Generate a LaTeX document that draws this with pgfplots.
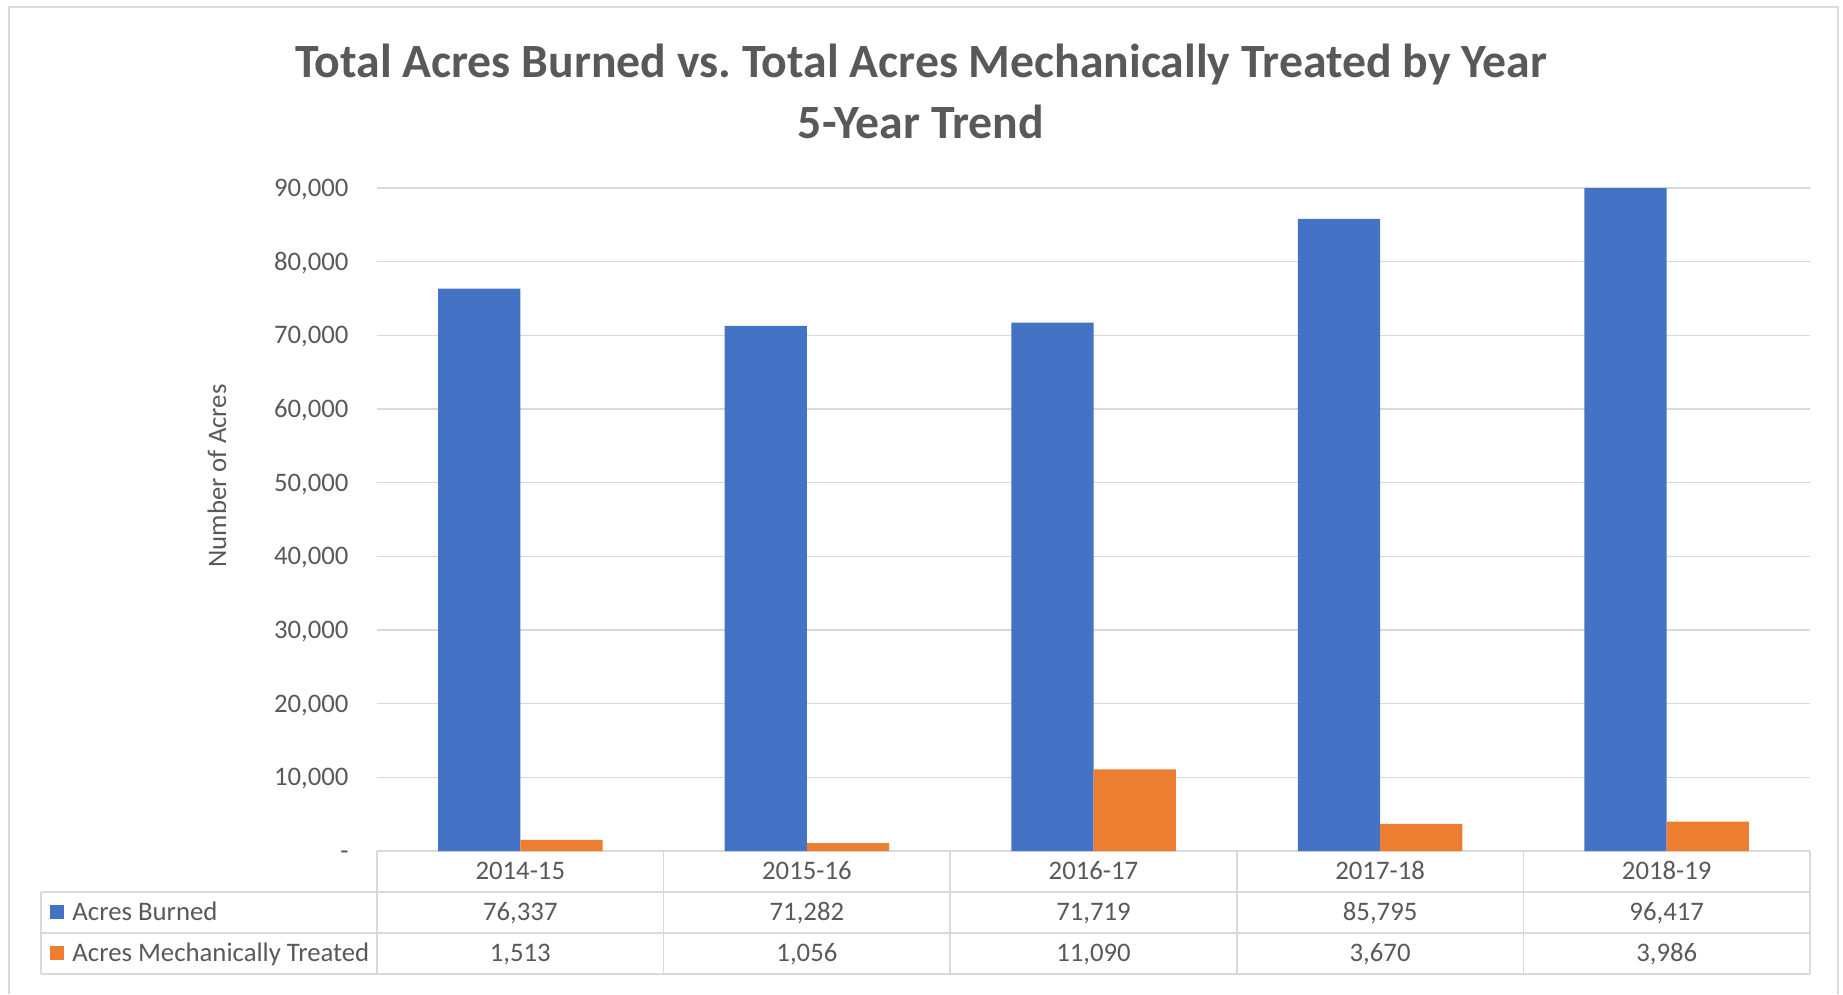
\documentclass[border=0pt]{standalone}
\usepackage{pgfplots}
\usepackage{pgfplotstable}
\pgfplotsset{compat=1.18}
\usepackage{fontspec}
\setmainfont{Carlito}

\definecolor{burnblue}{HTML}{4472C4}
\definecolor{mechorange}{HTML}{ED7D31}
\definecolor{gridgray}{HTML}{D9D9D9}
\definecolor{txtgray}{HTML}{595959}
\newcommand{\lbl}{\fontsize{10.7}{12.8}\selectfont}

\pgfkeys{/pgf/number format/.cd,1000 sep={,},assume math mode=true}

\pgfplotstableread{
x season burned treated
0 2014-15 76337 1513
1 2015-16 71282 1056
2 2016-17 71719 11090
3 2017-18 85795 3670
4 2018-19 96417 3986
}\acres

\begin{document}
\frenchspacing
\begin{tikzpicture}
% coordinates in reference pixels, 1px = 0.4pt, plot origin at px (377,851)
\begin{scope}[x=0.4pt,y=-0.4pt,xshift=-150.8pt,yshift=340.4pt]
  \useasboundingbox (0,0) rectangle (1843,994);
  \draw[gridgray,line width=0.7pt] (9,994) -- (9,7) -- (1838,7) -- (1838,994);
  \node[text=txtgray,font={\fontsize{19.1}{23}\selectfont\bfseries}] at (921,65)
    {Total Acres Burned vs.\ Total Acres Mechanically Treated by Year};
  \node[text=txtgray,font={\fontsize{19.1}{23}\selectfont\bfseries}] at (921,122)
    {5-Year Trend};
  % data table
  \begin{scope}[gridgray,line width=0.6pt]
    \draw (377,851) -- (1810,851);
    \foreach \y in {892,933,974} \draw (41,\y) -- (1810,\y);
    \draw (41,892) -- (41,974);
    \foreach \x in {377,663.6,950.2,1236.8,1523.4,1810} \draw (\x,851) -- (\x,974);
  \end{scope}
  \fill[burnblue] (50,905) rectangle (64,919);
  \fill[mechorange] (50,946) rectangle (64,960);
  \node[anchor=base west,text=txtgray,font=\lbl,inner sep=0pt] at (72,920) {Acres Burned};
  \node[anchor=base west,text=txtgray,font=\lbl,inner sep=0pt] at (72,961) {Acres Mechanically Treated};
  \foreach \i in {0,...,4}{
    \pgfplotstablegetelem{\i}{season}\of\acres \edef\s{\pgfplotsretval}
    \node[anchor=base,text=txtgray,font=\lbl,inner sep=0pt] at ({520.3+286.6*\i},879) {\s};
    \pgfplotstablegetelem{\i}{burned}\of\acres \edef\b{\pgfplotsretval}
    \node[anchor=base,text=txtgray,font=\lbl,inner sep=0pt] at ({520.3+286.6*\i},920) {\pgfmathprintnumber{\b}};
    \pgfplotstablegetelem{\i}{treated}\of\acres \edef\t{\pgfplotsretval}
    \node[anchor=base,text=txtgray,font=\lbl,inner sep=0pt] at ({520.3+286.6*\i},961) {\pgfmathprintnumber{\t}};
  }
\end{scope}

\begin{axis}[
  at={(0,0)}, anchor=south west,
  scale only axis,
  width=573.2pt, height=265.2pt,
  ybar=0pt, bar width=32.9pt,
  xmin=-0.5, xmax=4.5,
  ymin=0, ymax=90000,
  xtick=\empty,
  ytick={0,10000,...,90000},
  scaled y ticks=false,
  yticklabels={-\hspace{7.5pt},{10,000},{20,000},{30,000},{40,000},{50,000},{60,000},{70,000},{80,000},{90,000}},
  yticklabel style={anchor=base east,inner sep=0pt,xshift=-11.2pt,yshift=-3.4pt,text=txtgray,font=\lbl},
  ymajorgrids,
  grid style={gridgray,line width=0.6pt},
  axis line style={draw=none},
  major tick length=0pt,
  ylabel={Number of Acres},
  ylabel style={at={(axis description cs:-0.1117,0.5656)},anchor=center,text=txtgray,font=\lbl},
]
  \addplot[fill=burnblue,draw=none] table[x=x,y=burned]{\acres};
  \addplot[fill=mechorange,draw=none] table[x=x,y=treated]{\acres};
\end{axis}
\end{tikzpicture}
\end{document}
